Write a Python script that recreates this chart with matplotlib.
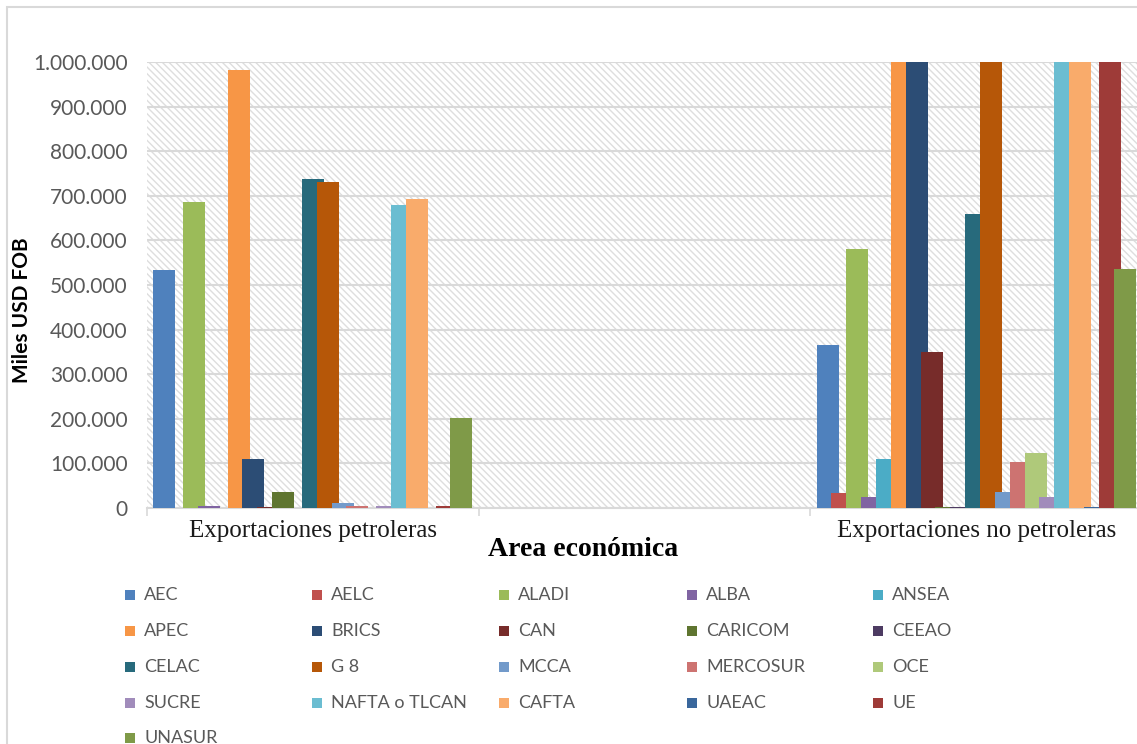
import matplotlib.pyplot as plt
from matplotlib.patches import Rectangle
from matplotlib.ticker import FuncFormatter
import numpy as np

# data (miles USD FOB)
series = ["AEC", "AELC", "ALADI", "ALBA", "ANSEA", "APEC", "BRICS", "CAN",
          "CARICOM", "CEEAO", "CELAC", "G 8", "MCCA", "MERCOSUR", "OCE",
          "SUCRE", "NAFTA o TLCAN", "CAFTA", "UAEAC", "UE", "UNASUR"]
colors = ["#4F81BD", "#C0504D", "#9BBB59", "#8064A2", "#4BACC6", "#F79646",
          "#2C4D75", "#772C2A", "#5F7530", "#4D3B62", "#276A7C", "#B65708",
          "#729ACA", "#CD7371", "#AFC97A", "#A18CBB", "#6BBDD1", "#F9AB6B",
          "#3A679C", "#9E3B38", "#7F9A48"]
categories = ["Exportaciones petroleras", "", "Exportaciones no petroleras"]
petroleras = [533000, 0, 687000, 4000, 0, 983000, 109000, 3000, 36500, 0,
              737000, 731500, 12000, 5000, 0, 4000, 679000, 692000, 0, 4000,
              202500]
# bars that run past 1.000.000 are cut off by the axis in the original
no_petroleras = [365500, 33000, 580000, 24000, 109000, 1150000, 1150000,
                 349000, 3000, 3000, 659000, 1150000, 36500, 104000, 122500,
                 24000, 1150000, 1150000, 2000, 1150000, 536000]

W, H = 1137, 744
fig = plt.figure(figsize=(W / 100, H / 100), dpi=100)
plt.rcParams['hatch.linewidth'] = 1.0
plt.rcParams['hatch.color'] = '#dedede'

# chart border
fig.patches.append(Rectangle((7 / W, -0.1), 1.2, 1 - 7 / H + 0.1,
                             transform=fig.transFigure, fill=False,
                             edgecolor='#d9d9d9', lw=1.5))

ax = fig.add_axes([147 / W, 1 - 508 / H, 995 / W, 446 / H])
ax.add_patch(Rectangle((0, 0), 1, 1, transform=ax.transAxes,
                       facecolor='white', edgecolor='#dedede', lw=0,
                       hatch='\\\\\\\\\\', zorder=0))

step = 0.0448
width = 0.0663
x = np.array([0, 2])
for i, name in enumerate(series):
    offs = (i - 10) * step
    ax.bar(x + offs, [petroleras[i], no_petroleras[i]], width=width,
           color=colors[i], zorder=3)

ax.set_xlim(-0.5, 2.5)
ax.set_ylim(0, 1000000)
ax.set_yticks(np.arange(0, 1000001, 100000))
ax.yaxis.set_major_formatter(FuncFormatter(lambda v, p: f"{int(v):,}".replace(",", ".")))
ax.grid(axis='y', color='#d9d9d9', lw=1.5, zorder=1)
ax.set_axisbelow(True)

ax.set_xticks([0, 1, 2])
ax.set_xticklabels(categories, family='Liberation Serif', fontsize=18,
                   color='#1a1a1a')
ax.set_xticks([-0.5, 0.5, 1.5, 2.5], minor=True)
ax.tick_params(axis='x', which='major', length=0, pad=9)
ax.tick_params(axis='x', which='minor', length=6, color='#d9d9d9', width=1.2)
ax.tick_params(axis='y', length=0, pad=14, labelsize=15, labelcolor='#595959')
for lab in ax.get_yticklabels():
    lab.set_family('Lato')

for s in ['top', 'right', 'left']:
    ax.spines[s].set_visible(False)
ax.spines['bottom'].set_color('#d9d9d9')
ax.spines['bottom'].set_linewidth(1.5)

fig.text(22 / W, 1 - 310 / H, "Miles USD FOB", rotation=90, ha='center',
         va='center', family='Lato', fontweight='bold', fontsize=15,
         color='black')
fig.text(583 / W, 1 - 549 / H, "Area económica", ha='center', va='center',
         family='Liberation Serif', fontweight='bold', fontsize=20,
         color='black')

# legend, 5 columns, row by row
col_x = [125, 312, 499, 687, 873]
row_y = [595, 631, 667, 703, 738]
for i, name in enumerate(series):
    r, c = divmod(i, 5)
    px, py = col_x[c], row_y[r]
    fig.patches.append(Rectangle((px / W, 1 - (py + 5) / H), 10 / W, 10 / H,
                                 transform=fig.transFigure,
                                 facecolor=colors[i], lw=0))
    fig.text((px + 19) / W, 1 - py / H, name, ha='left', va='center',
             family='Lato', fontsize=13, color='#595959')

fig.savefig('out.png', dpi=100)
